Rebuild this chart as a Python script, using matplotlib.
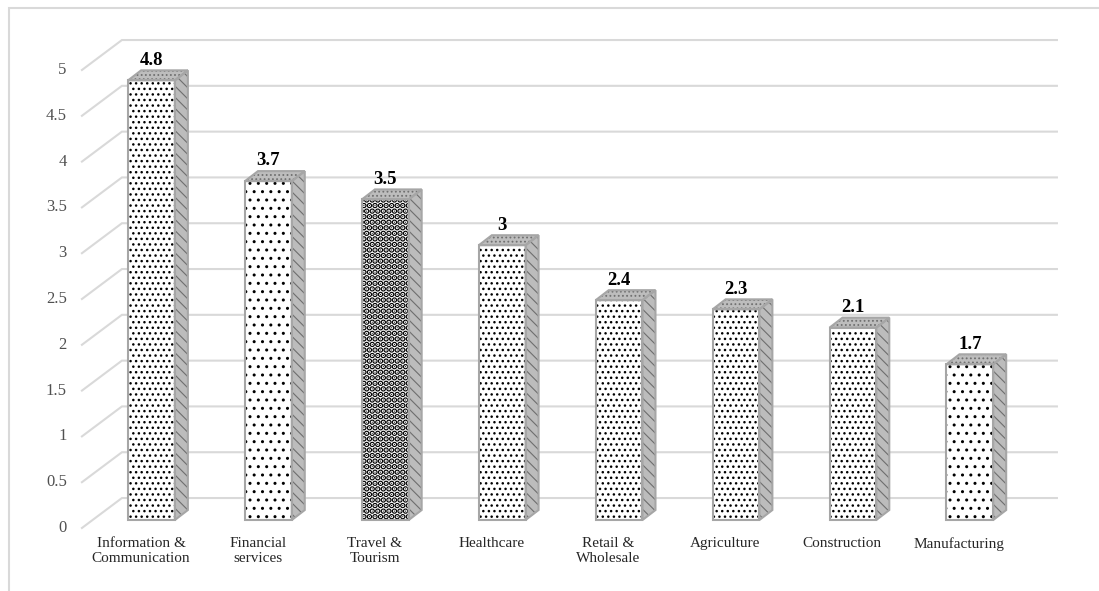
import matplotlib as mpl
import matplotlib.pyplot as plt
from matplotlib.patches import Polygon, Rectangle

categories = ["Information &\nCommunication", "Financial\nservices", "Travel &\nTourism",
              "Healthcare", "Retail &\nWholesale", "Agriculture", "Construction", "Manufacturing"]
values = [4.8, 3.7, 3.5, 3.0, 2.4, 2.3, 2.1, 1.7]
value_labels = ["4.8", "3.7", "3.5", "3", "2.4", "2.3", "2.1", "1.7"]
y_ticks = [0, 0.5, 1, 1.5, 2, 2.5, 3, 3.5, 4, 4.5, 5]
y_tick_labels = ["0", "0.5", "1", "1.5", "2", "2.5", "3", "3.5", "4", "4.5", "5"]

# front face fill patterns (hatch, hatch line width), one per bar
front_hatch = ["...", "..", "...", "...", "...", "...", "...", ".."]
front_hatch_lw = [1.0, 1.0, 3.0, 1.0, 1.0, 1.0, 1.0, 1.0]

plt.rcParams["font.family"] = ["Liberation Serif", "DejaVu Serif"]

# fake 3D geometry in data units (x: category index, y: value)
bar_w = 0.40
dx, dy = 0.111, 0.109          # depth of each bar
wall_dx, wall_dy = 0.342, 0.327  # floor front edge -> back wall
floor_x, floor_y = -0.595, -0.087
wall_right = 7.745
edge_col = "#a6a6a6"
grid_col = "#d9d9d9"

fig = plt.figure(figsize=(10.99, 5.91), dpi=100)
ax = fig.add_axes([0, 0, 1, 1])
ax.set_xlim(-1.296, 8.105)
ax.set_ylim(-0.775, 5.677)
ax.axis("off")

# chart area border
fig.patches.append(Rectangle((9 / 1099, -0.1), 1.2, 1 - 8 / 591 + 0.1, transform=fig.transFigure,
                             fill=False, edgecolor="#d9d9d9", linewidth=1.5))

# back wall gridlines with the diagonal run on the side wall
for t, lab in zip(y_ticks, y_tick_labels):
    x0, y0 = floor_x, t + floor_y
    x1, y1 = floor_x + wall_dx, y0 + wall_dy
    ax.plot([x0, x1, wall_right], [y0, y1, y1], color=grid_col, lw=1.5, zorder=1,
            solid_joinstyle="miter")
    ax.text(floor_x - 0.13, y0, lab, ha="right", va="center", fontsize=12, color="#505050")


def hatched(patch, lw):
    with mpl.rc_context({"hatch.linewidth": lw}):
        p = patch()
    if hasattr(p, "set_hatch_linewidth"):
        p.set_hatch_linewidth(lw)
    return p


for i, (v, h, hlw) in enumerate(zip(values, front_hatch, front_hatch_lw)):
    xl, xr = i - bar_w / 2, i + bar_w / 2
    side_xy = [(xr, 0), (xr + dx, dy), (xr + dx, v + dy), (xr, v)]
    top_xy = [(xl, v), (xr, v), (xr + dx, v + dy), (xl + dx, v + dy)]
    # side face
    ax.add_patch(hatched(lambda: Polygon(side_xy, closed=True, facecolor="#bcbcbc",
                                         edgecolor="#6e6e6e", hatch="\\\\\\", lw=0, zorder=3), 0.8))
    ax.add_patch(Polygon(side_xy, closed=True, fill=False, edgecolor=edge_col, lw=1.5, zorder=4))
    # top face
    ax.add_patch(hatched(lambda: Polygon(top_xy, closed=True, facecolor="#bdbdbd",
                                         edgecolor="#707070", hatch="....", lw=0, zorder=3), 0.8))
    ax.add_patch(Polygon(top_xy, closed=True, fill=False, edgecolor=edge_col, lw=1.5, zorder=4))
    # front face
    ax.add_patch(hatched(lambda: Rectangle((xl, 0), bar_w, v, facecolor="white", edgecolor="black",
                                           hatch=h, lw=0, zorder=3), hlw))
    ax.add_patch(Rectangle((xl, 0), bar_w, v, fill=False, edgecolor=edge_col, lw=1.5, zorder=4))
    ax.text(i, v + 0.22, value_labels[i], ha="center", va="center", fontsize=13.5,
            fontweight="bold", color="black", zorder=5)
    ax.text(i - 0.09, -0.186, categories[i], ha="center", va="top", fontsize=11,
            color="#262626", linespacing=1.15)

fig.savefig("out.png", dpi=100)
